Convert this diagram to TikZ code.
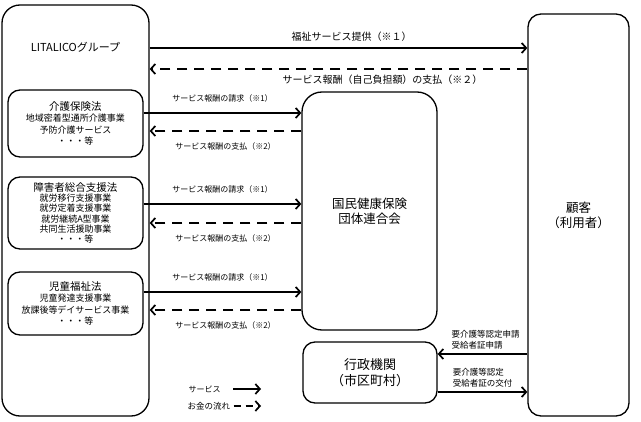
\documentclass[tikz,border=0pt]{standalone}
\usepackage{fontspec}
\setmainfont{Noto Sans CJK JP}
\usetikzlibrary{arrows.meta,positioning,calc}

\begin{document}
\begin{tikzpicture}[x=1pt, y=-1pt, >={Straight Barb[length=4.5pt,width=10pt]},
    box/.style={draw, line width=1.3pt, inner sep=0pt, align=center},
    flow/.style={->, line width=1.7pt},
    money/.style={->, line width=1.7pt, dash pattern=on 10pt off 7pt},
    tiny/.style={font=\fontsize{8}{9}\selectfont},
    note/.style={font=\fontsize{8.5}{11}\selectfont, align=left}]
    \useasboundingbox (0,0) rectangle (641,422);

    % Big boxes: LITALICO, customer
    \node[box, rounded corners=18pt, minimum width=147pt, minimum height=411pt] (litalico) at (75.5,210.5) {};
    \node[font=\fontsize{11}{13}\selectfont] (litaliconame) at (75.5,47) {LITALICOグループ};
    \node[box, rounded corners=13pt, minimum width=101pt, minimum height=402pt, font=\fontsize{12.5}{15}\selectfont] (customer) at (578.5,215) {顧客\\（利用者）};

    % Middle boxes
    \node[box, rounded corners=20pt, minimum width=135pt, minimum height=238pt, font=\fontsize{12.5}{15}\selectfont] (kokuho) at (369.5,211) {国民健康保険\\団体連合会};
    \node[box, rounded corners=12pt, minimum width=134pt, minimum height=61pt, font=\fontsize{13}{15.5}\selectfont] (gyosei) at (370,372.5) {行政機関\\（市区町村）};

    % Law boxes inside LITALICO
    \node[box, rounded corners=12pt, minimum width=135pt, minimum height=67pt, font=\fontsize{9}{11.5}\selectfont] (kaigo) at (75.5,123.5)
        {{\fontsize{10.5}{11.5}\selectfont 介護保険法}\\地域密着型通所介護事業\\予防介護サービス\\・・・等};
    \node[box, rounded corners=12pt, minimum width=135pt, minimum height=72pt, font=\fontsize{9}{10.3}\selectfont] (shogai) at (75.5,213)
        {{\fontsize{10.5}{10.3}\selectfont 障害者総合支援法}\\就労移行支援事業\\就労定着支援事業\\就労継続A型事業\\共同生活援助事業\\・・・等};
    \node[box, rounded corners=12pt, minimum width=135pt, minimum height=63pt, font=\fontsize{9}{11.5}\selectfont] (jido) at (75.5,303.5)
        {{\fontsize{10.5}{11.5}\selectfont 児童福祉法}\\児童発達支援事業\\放課後等デイサービス事業\\・・・等};

    % Service and payment between LITALICO and customer
    \draw[flow] (litalico.east |- 0,48) -- node[above=2pt, xshift=13pt, font=\fontsize{10}{12}\selectfont] {福祉サービス提供（※１）} (customer.west |- 0,48);
    \draw[money] (customer.west |- 0,69) -- node[below=2pt, xshift=44pt, font=\fontsize{10}{12}\selectfont] {サービス報酬（自己負担額）の支払（※２）} (litalico.east |- 0,69);

    % Claims and payments with kokuho
    \draw[flow] (kaigo.east |- 0,113) -- node[above=7pt, tiny] {サービス報酬の請求（※1）} (kokuho.west |- 0,113);
    \draw[money] (kokuho.west |- 0,131) -- node[below=7pt, tiny] {サービス報酬の支払（※2）} (litalico.east |- 0,131);
    \draw[flow] (shogai.east |- 0,204) -- node[above=7pt, tiny] {サービス報酬の請求（※1）} (kokuho.west |- 0,204);
    \draw[money] (kokuho.west |- 0,223) -- node[below=7pt, tiny] {サービス報酬の支払（※2）} (litalico.east |- 0,223);
    \draw[flow] (jido.east |- 0,292) -- node[above=7pt, tiny] {サービス報酬の請求（※1）} (kokuho.west |- 0,292);
    \draw[money] (kokuho.west |- 0,310) -- node[below=7pt, tiny] {サービス報酬の支払（※2）} (litalico.east |- 0,310);

    % Customer and municipality
    \draw[flow] (customer.west |- 0,354) -- node[above=1pt, xshift=3pt, note] {要介護等認定申請\\受給者証申請} (gyosei.east |- 0,354);
    \draw[flow] (gyosei.east |- 0,392) -- node[above=1pt, note] {要介護等認定\\受給者証の交付} (customer.west |- 0,392);

    % Legend
    \node[anchor=west, font=\fontsize{8}{10}\selectfont] (legsvc) at (185,389) {サービス};
    \node[anchor=west, font=\fontsize{8.5}{10}\selectfont] (legmoney) at (184,406) {お金の流れ};
    \coordinate (legsvcend) at (261,389);
    \coordinate (legmoneyend) at (261,406);
    \draw[flow] (legsvcend -| 233,0) -- (legsvcend);
    \draw[->, line width=1.7pt, dash pattern=on 7pt off 5pt] (legmoney.east) -- (legmoneyend);
\end{tikzpicture}
\end{document}
